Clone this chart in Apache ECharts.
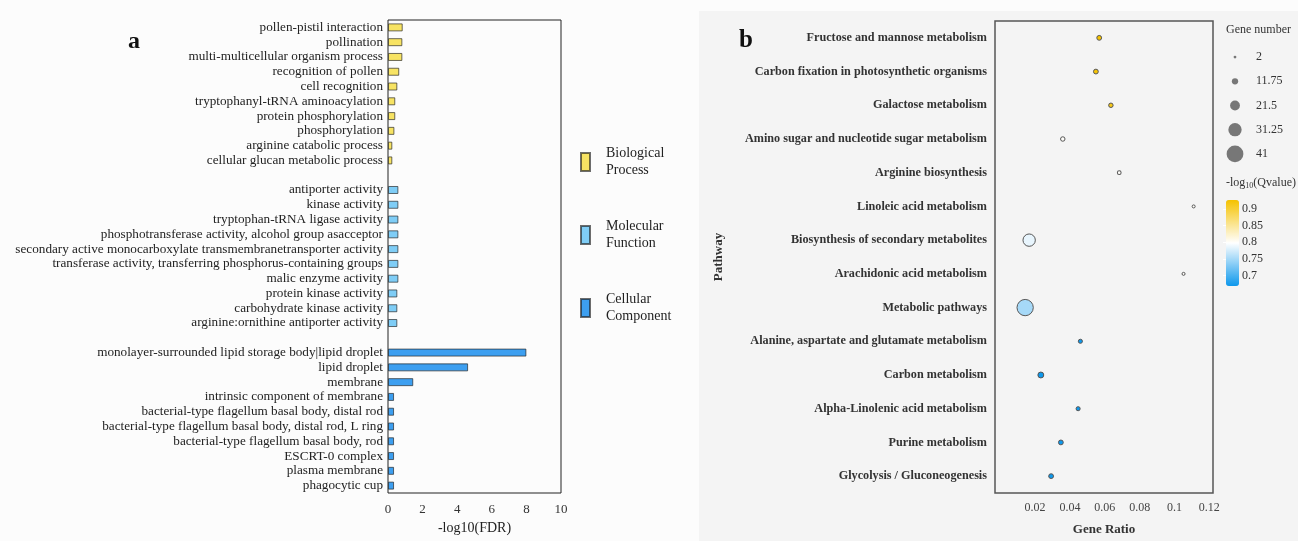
<!DOCTYPE html>
<html>
<head>
<meta charset="utf-8">
<script src="https://cdn.jsdelivr.net/npm/echarts@6/dist/echarts.min.js"></script>
<style>
html,body{margin:0;padding:0;background:#fcfcfc;}
#main{width:1298px;height:541px;}
</style>
</head>
<body>
<div id="main"></div>
<script>
// ---------- Panel a: GO enrichment bars ----------
const bpTerms = ['pollen-pistil interaction','pollination','multi-multicellular organism process','recognition of pollen','cell recognition','tryptophanyl-tRNA aminoacylation','protein phosphorylation','phosphorylation','arginine catabolic process','cellular glucan metabolic process'];
const bpValues = [0.85,0.83,0.83,0.65,0.54,0.42,0.42,0.37,0.25,0.25];
const mfTerms = ['antiporter activity','kinase activity','tryptophan-tRNA ligase activity','phosphotransferase activity, alcohol group asacceptor','secondary active monocarboxylate transmembranetransporter activity','transferase activity, transferring phosphorus-containing groups','malic enzyme activity','protein kinase activity','carbohydrate kinase activity','arginine:ornithine antiporter activity'];
const mfValues = [0.6,0.6,0.6,0.6,0.6,0.6,0.6,0.54,0.54,0.54];
const ccTerms = ['monolayer-surrounded lipid storage body|lipid droplet','lipid droplet','membrane','intrinsic component of membrane','bacterial-type flagellum basal body, distal rod','bacterial-type flagellum basal body, distal rod, L ring','bacterial-type flagellum basal body, rod','ESCRT-0 complex','plasma membrane','phagocytic cup'];
const ccValues = [8.0,4.63,1.46,0.35,0.35,0.35,0.35,0.35,0.35,0.35];
const groupNames = ['Biological Process','Molecular Function','Cellular Component'];
const fdrTicks = [0,2,4,6,8,10];

// ---------- Panel b: KEGG bubble ----------
const pathways = ['Fructose and mannose metabolism','Carbon fixation in photosynthetic organisms','Galactose metabolism','Amino sugar and nucleotide sugar metabolism','Arginine biosynthesis','Linoleic acid metabolism','Biosynthesis of secondary metabolites','Arachidonic acid metabolism','Metabolic pathways','Alanine, aspartate and glutamate metabolism','Carbon metabolism','Alpha-Linolenic acid metabolism','Purine metabolism','Glycolysis / Gluconeogenesis'];
const geneRatio = [0.0568,0.0549,0.0635,0.0359,0.0683,0.111,0.0166,0.1052,0.0143,0.046,0.0233,0.0447,0.0348,0.0292];
const geneNumber = [9,9,8,8,6,4,30,4,41,7,12,7,9,9];
const qValue = [0.927,0.925,0.915,0.80,0.80,0.80,0.785,0.80,0.75,0.668,0.668,0.668,0.668,0.668];
const ratioTicks = [0.02,0.04,0.06,0.08,0.1,0.12];
const sizeLegend = [2,11.75,21.5,31.25,41];
const qTicks = [0.7,0.75,0.8,0.85,0.9];

const serif = '"Liberation Serif","DejaVu Serif",serif';
const categories = [...bpTerms, '', ...mfTerms, ' ', ...ccTerms];
const nBP = bpTerms.length, nMF = mfTerms.length;
function groupData(idx){
  return categories.map((c,i)=>{
    if(idx===0 && i<nBP) return bpValues[i];
    if(idx===1 && i>nBP && i<=nBP+nMF) return mfValues[i-nBP-1];
    if(idx===2 && i>nBP+nMF+1) return ccValues[i-nBP-nMF-2];
    return '-';
  });
}
const barColors = ['#f7e363','#7fcdf6','#3d9ff0'];
function sizeOf(g){ return 2.3 + 14*(g-2)/39; }

const chart = echarts.init(document.getElementById('main'), null, {renderer:'canvas'});
const option = {
  animation:false,
  backgroundColor:'#fcfcfc',
  textStyle:{fontFamily:serif},
  graphic:[
    {type:'rect', left:699, top:11, shape:{width:599, height:530}, style:{fill:'#f4f4f4'}, z:-10, silent:true},
    {type:'text', left:128, top:30, style:{text:'a', font:'bold 24px '+serif, fill:'#111'}},
    {type:'text', left:739, top:28, style:{text:'b', font:'bold 25px '+serif, fill:'#111'}},
    {type:'text', left:1226, top:24, style:{text:'Gene number', font:'12px '+serif, fill:'#333'}},
    {type:'text', left:1226, top:177, style:{text:'-log{s|10}(Qvalue)', font:'12px '+serif, fill:'#333', rich:{s:{fontSize:8, padding:[6,0,0,0], fontFamily:serif, fill:'#333'}}}}
  ],
  legend:{
    data:groupNames, orient:'vertical', left:580, top:145, icon:'rect', padding:0,
    itemWidth:9, itemHeight:18, itemGap:39,
    formatter: n => n.replace(' ','\n'),
    textStyle:{fontFamily:serif, fontSize:14, lineHeight:17, color:'#222', padding:[0,0,0,11]}
  },
  grid:[
    {left:388, top:20, width:173, height:473, show:true, borderColor:'#222', borderWidth:1, backgroundColor:'transparent'},
    {left:995, top:21, width:218, height:480, show:true, borderColor:'#555', borderWidth:1.5, backgroundColor:'transparent'},
    {left:1225, top:45, width:20, height:121},
    {left:1226, top:200, width:13, height:86}
  ],
  xAxis:[
    {gridIndex:0, type:'value', min:0, max:10, interval:2, name:'-log10(FDR)', nameLocation:'middle', nameGap:27,
     nameTextStyle:{fontFamily:serif, fontSize:14, color:'#222'},
     axisLine:{show:false}, axisTick:{show:false}, splitLine:{show:false},
     axisLabel:{fontFamily:serif, fontSize:13, color:'#333', margin:10}},
    {gridIndex:1, type:'value', min:-0.003, max:0.1221, name:'Gene Ratio', nameLocation:'middle', nameGap:30,
     nameTextStyle:{fontFamily:serif, fontSize:13, fontWeight:'bold', color:'#333'},
     axisLine:{show:false}, axisTick:{show:false}, splitLine:{show:false},
     axisLabel:{customValues:ratioTicks, fontFamily:serif, fontSize:12, color:'#444', margin:9}},
    {gridIndex:2, type:'value', min:0, max:1, show:false},
    {gridIndex:3, type:'value', min:0, max:1, show:false}
  ],
  yAxis:[
    {gridIndex:0, type:'category', data:categories, inverse:true,
     axisLine:{show:false},
     axisTick:{length:3, lineStyle:{color:'#222'}, alignWithLabel:true, interval:(i,v)=> v.trim()!==''},
     axisLabel:{fontFamily:serif, fontSize:13.2, color:'#222', margin:5, interval:0}},
    {gridIndex:1, type:'category', data:pathways, inverse:true, name:'Pathway', nameLocation:'middle', nameGap:270, nameRotate:90,
     nameTextStyle:{fontFamily:serif, fontSize:13, fontWeight:'bold', color:'#333'},
     axisLine:{show:false}, axisTick:{show:false},
     axisLabel:{fontFamily:serif, fontSize:12.2, fontWeight:'bold', color:'#333', margin:8, interval:0}},
    {gridIndex:2, type:'category', data:sizeLegend.map(String), inverse:true, position:'right',
     axisLine:{show:false}, axisTick:{show:false},
     axisLabel:{fontFamily:serif, fontSize:12, color:'#333', margin:11}},
    {gridIndex:3, type:'value', min:0.668, max:0.927, position:'right',
     axisLine:{show:false}, splitLine:{show:false},
     axisTick:{show:true, inside:true, length:3, customValues:qTicks, lineStyle:{color:'#fff'}},
     axisLabel:{customValues:qTicks, fontFamily:serif, fontSize:12, color:'#333', margin:3}}
  ],
  visualMap:{
    type:'continuous', min:0.668, max:0.927, dimension:3, seriesIndex:3,
    inRange:{color:['#0d98ec','#ffffff','#f5c200']},
    left:1226, top:200, itemWidth:13, itemHeight:86, padding:0,
    calculable:false, text:null, showLabel:false, orient:'vertical'
  },
  series:[
    ...groupNames.map((n,k)=>({
      name:n, type:'bar', xAxisIndex:0, yAxisIndex:0, data:groupData(k),
      barWidth:8, barGap:'-100%',
      itemStyle:{color:barColors[k], borderColor:'rgba(30,30,30,0.65)', borderWidth:1}
    })),
    {
      name:'KEGG', type:'scatter', xAxisIndex:1, yAxisIndex:1,
      data: pathways.map((p,i)=>[geneRatio[i], p, geneNumber[i], qValue[i]]),
      symbolSize: d => sizeOf(d[2]),
      itemStyle:{borderColor:'#555', borderWidth:1, opacity:1}
    },
    {
      name:'sizeLegend', type:'scatter', xAxisIndex:2, yAxisIndex:2,
      data: sizeLegend.map(g=>[0.5, String(g), g]),
      symbolSize: d => sizeOf(d[2]) + 0.5,
      itemStyle:{color:'#585858'}
    }
  ]
};
chart.setOption(option);
</script>
</body>
</html>
